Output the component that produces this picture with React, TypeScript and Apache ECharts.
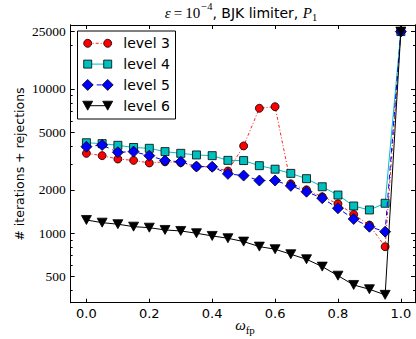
import React, { useEffect, useRef } from 'react';
import * as echarts from 'echarts';

const omega = [0, 0.05, 0.1, 0.15, 0.2, 0.25, 0.3, 0.35, 0.4, 0.45, 0.5, 0.55, 0.6, 0.65, 0.7, 0.75, 0.8, 0.85, 0.9, 0.95, 1.0];
const level3 = [3580, 3450, 3270, 3200, 3070, 3130, 3090, 2900, 2880, 2700, 4030, 7350, 7540, 2200, 2000, 1790, 1600, 1350, 1140, 807, 25000];
const level4 = [4240, 4180, 4070, 3930, 3880, 3680, 3580, 3490, 3450, 3200, 3190, 2940, 2780, 2600, 2390, 2100, 1840, 1545, 1450, 1614, 25000];
const level5 = [3980, 4090, 3640, 3680, 3450, 3190, 3130, 2900, 2890, 2580, 2510, 2320, 2320, 2130, 1940, 1750, 1490, 1256, 1110, 1026, 25000];
const level6 = [1236, 1184, 1155, 1111, 1093, 1054, 1037, 1000, 958, 923, 875, 808, 775, 715, 660, 587, 508, 438, 409, 374, 25000];

const seriesNames = ['level 3', 'level 4', 'level 5', 'level 6'];
const xTicks = [0, 0.2, 0.4, 0.6, 0.8, 1.0];
const yTicks = [500, 1000, 2000, 5000, 10000, 25000];
const yMinorTicks = [400, 600, 700, 800, 900, 3000, 4000, 6000, 7000, 8000, 9000, 20000];
const xRange = [-0.05, 1.045];
const yRange = [330, 27770];

const lg = (v: number) => Math.log10(v);

export default function App() {
  const ref = useRef<HTMLDivElement>(null);
  useEffect(() => {
    if (!ref.current) return;
    const chart = echarts.init(ref.current, null, { renderer: 'svg' });
    const black = '#000';
    const axisLine = { show: true, onZero: false, lineStyle: { color: black, width: 1 } };
    const yBase = {
      type: 'value' as const,
      min: lg(yRange[0]),
      max: lg(yRange[1]),
      splitLine: { show: false },
      axisLine,
    };
    const xBase = {
      type: 'value' as const,
      min: xRange[0],
      max: xRange[1],
      splitLine: { show: false },
      axisLine,
    };
    const toData = (vals: number[]) => omega.map((x, i) => [x, lg(vals[i])]);
    const styles = [
      { color: '#ff0000', symbol: 'circle', size: 8, line: { color: '#ff0000', width: 1, type: [3, 2, 1, 2], opacity: 0.85 } },
      { color: '#00bfbf', symbol: 'rect', size: 8, line: { color: '#00bfbf', width: 1, type: 'solid' } },
      { color: '#0000ff', symbol: 'diamond', size: 11, line: { color: '#0000ff', width: 1, type: [5, 4] } },
      { color: '#000000', symbol: 'triangle', size: [10, 9], line: { color: '#000000', width: 1, type: 'solid' } },
    ];
    const allVals = [level3, level4, level5, level6];
    const series = allVals.map((vals, i) => ({
      name: seriesNames[i],
      type: 'line' as const,
      data: toData(vals),
      z: 2 + i,
      symbol: styles[i].symbol,
      symbolSize: styles[i].size,
      symbolRotate: i === 3 ? 180 : 0,
      showAllSymbol: true,
      itemStyle: { color: styles[i].color, borderColor: '#000', borderWidth: 0.8 },
      lineStyle: styles[i].line,
      xAxisIndex: 0,
      yAxisIndex: 0,
    }));

    // legend drawn with graphic elements
    const legendX0 = 87.7;
    const legendX1 = 107.7;
    const rowY = (i: number) => 43.3 + 20.8 * i;
    const legendChildren: any[] = [
      { type: 'rect', shape: { x: 77.5, y: 31, width: 98, height: 88 }, style: { fill: '#fff', stroke: '#000', lineWidth: 1 } },
    ];
    const markerEl = (i: number, cx: number, cy: number) => {
      const st = { fill: styles[i].color, stroke: '#000', lineWidth: 0.8 };
      if (i === 0) return { type: 'circle', shape: { cx, cy, r: 4 }, style: st };
      if (i === 1) return { type: 'rect', shape: { x: cx - 4, y: cy - 4, width: 8, height: 8 }, style: st };
      if (i === 2) return { type: 'polygon', shape: { points: [[cx, cy - 5.5], [cx + 5.5, cy], [cx, cy + 5.5], [cx - 5.5, cy]] }, style: st };
      return { type: 'polygon', shape: { points: [[cx - 5, cy - 4.5], [cx + 5, cy - 4.5], [cx, cy + 4.5]] }, style: st };
    };
    seriesNames.forEach((name, i) => {
      const y = rowY(i);
      const ls = styles[i].line as any;
      legendChildren.push({
        type: 'line',
        shape: { x1: legendX0, y1: y, x2: legendX1, y2: y },
        style: { stroke: ls.color, lineWidth: 1, lineDash: Array.isArray(ls.type) ? ls.type : null, opacity: ls.opacity ?? 1 },
      });
      legendChildren.push(markerEl(i, legendX0, y));
      legendChildren.push(markerEl(i, legendX1, y));
      legendChildren.push({
        type: 'text',
        x: 123.3,
        y,
        style: { text: name, fontFamily: 'DejaVu Sans', fontSize: 14, fill: '#000', verticalAlign: 'middle', align: 'left' },
      });
    });

    const option: any = {
      animation: false,
      grid: { left: 70.7, right: 1, top: 25, bottom: 36.3, containLabel: false, outerBoundsMode: 'none' },
      xAxis: [
        {
          ...xBase,
          position: 'bottom',
          axisTick: { inside: true, length: 4, customValues: xTicks, lineStyle: { color: black } },
          axisLabel: {
            customValues: xTicks,
            formatter: (v: number) => v.toFixed(1),
            fontFamily: 'DejaVu Sans',
            fontSize: 13,
            color: black,
            margin: 4,
          },
        },
        {
          ...xBase,
          position: 'top',
          axisTick: { inside: true, length: 4, customValues: xTicks, lineStyle: { color: black } },
          axisLabel: { show: false },
        },
      ],
      yAxis: [
        {
          ...yBase,
          position: 'left',
          axisTick: { inside: true, length: 4, customValues: yTicks.map(lg), lineStyle: { color: black } },
          axisLabel: {
            customValues: yTicks.map(lg),
            formatter: (v: number) => String(Math.round(Math.pow(10, v))),
            fontFamily: 'Liberation Serif',
            fontSize: 13.5,
            color: black,
            margin: 5,
          },
        },
        {
          ...yBase,
          position: 'right',
          axisTick: { inside: true, length: 4, customValues: yTicks.map(lg), lineStyle: { color: black } },
          axisLabel: { show: false },
        },
        {
          ...yBase,
          position: 'left',
          axisTick: { inside: true, length: 2, customValues: yMinorTicks.map(lg), lineStyle: { color: black } },
          axisLabel: { show: false },
        },
        {
          ...yBase,
          position: 'right',
          axisTick: { inside: true, length: 2, customValues: yMinorTicks.map(lg), lineStyle: { color: black } },
          axisLabel: { show: false },
        },
      ],
      series,
      graphic: [
        {
          type: 'text',
          x: 241,
          y: 15,
          z: 100,
          style: {
            text: '{i|ε}{m|\u2009=\u200910}{sup|−4}{n|, BJK limiter, }{i|P}{sub|1}',
            align: 'center',
            verticalAlign: 'middle',
            fill: '#000',
            rich: {
              i: { fontFamily: 'Liberation Serif', fontStyle: 'italic', fontSize: 15, lineHeight: 16, verticalAlign: 'bottom', padding: [0, 0, 3, 0] },
              m: { fontFamily: 'Liberation Serif', fontSize: 15, lineHeight: 16, verticalAlign: 'bottom', padding: [0, 0, 3, 0] },
              n: { fontFamily: 'DejaVu Sans', fontSize: 14, lineHeight: 16, verticalAlign: 'bottom', padding: [0, 0, 3, 0] },
              sup: { fontFamily: 'Liberation Serif', fontSize: 10.5, lineHeight: 11, verticalAlign: 'bottom', padding: [0, 0, 11, 1] },
              sub: { fontFamily: 'Liberation Serif', fontSize: 10.5, lineHeight: 11, verticalAlign: 'bottom', padding: [0, 0, 0, 0] },
            },
          },
        },
        {
          type: 'text',
          x: 19,
          y: 164,
          rotation: Math.PI / 2,
          style: {
            text: '# iterations + rejections',
            fontFamily: 'DejaVu Sans',
            fontSize: 12.5,
            fill: '#000',
            align: 'center',
            verticalAlign: 'middle',
          },
        },
        {
          type: 'text',
          x: 245,
          y: 327,
          style: {
            text: '{w|ω}{s|fp}',
            align: 'center',
            verticalAlign: 'middle',
            fill: '#000',
            rich: {
              w: { fontFamily: 'Liberation Serif', fontStyle: 'italic', fontSize: 15, lineHeight: 16, verticalAlign: 'bottom', padding: [0, 0, 3, 0] },
              s: { fontFamily: 'Liberation Serif', fontSize: 11, lineHeight: 12, verticalAlign: 'bottom' },
            },
          },
        },
        { type: 'group', z: 100, children: legendChildren },
      ],
    };
    chart.setOption(option);
    return () => chart.dispose();
  }, []);
  return <div ref={ref} style={{ position: 'fixed', left: 0, top: 0, width: 416, height: 339, background: '#fff' }} />;
}
